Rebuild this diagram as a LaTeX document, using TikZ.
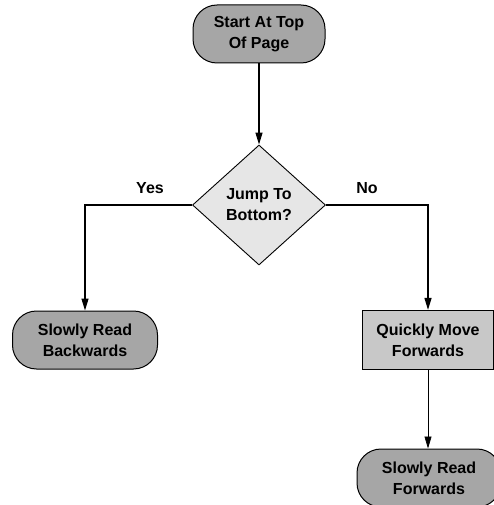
\documentclass[tikz,border=0pt]{standalone}
\usepackage{fontspec}
\setmainfont{Liberation Sans}
\usetikzlibrary{positioning,arrows.meta}
\usetikzlibrary{shapes.geometric}
\definecolor{termgray}{RGB}{166,166,166}
\definecolor{boxgray}{RGB}{200,200,200}
\definecolor{diagray}{RGB}{230,230,230}

\begin{document}
\begin{tikzpicture}[x=1pt,y=-1pt,
                every node/.style={font=\bfseries\fontsize{16}{21}\selectfont, align=center},
                term/.style={rectangle, rounded corners=24pt, draw, line width=1pt, fill=termgray, minimum width=144pt, minimum height=58pt},
                proc/.style={rectangle, draw, line width=1.2pt, fill=boxgray, minimum width=131pt, minimum height=59pt},
                decide/.style={diamond, draw, line width=0.9pt, fill=diagray, minimum width=133pt, minimum height=120pt, inner sep=0pt, aspect=1.1},
                link/.style={line width=1.3pt, -{Triangle[length=12pt,width=7pt]}},]
            \useasboundingbox (0,0) rectangle (494,505);
            \begin{scope}
            \clip (0,0) rectangle (494,505);
            \node[term, minimum width=132pt] (s0) at (259,34) {Start At Top\\Of Page};
            \node[decide] (d1) at (259,205) {Jump To\\Bottom?};
            \node[term, minimum width=145pt] (b1) at (85,340) {Slowly Read\\Backwards};
            \node[proc] (q1) at (428,340) {Quickly Move\\Forwards};
            \node[term] (f1) at (429,478) {Slowly Read\\Forwards};
            \end{scope}
            \node (yes) at (150,188) {Yes};
            \node (no) at (367,188) {No};
            \draw[link] (s0) -- (d1);
            \draw[link] (d1.west) -| (b1.north);
            \draw[link] (d1.east) -| (q1.north);
            \draw[link, line width=0.7pt] (q1.south) -- (f1.north -| q1.south);
        \end{tikzpicture}
\end{document}
